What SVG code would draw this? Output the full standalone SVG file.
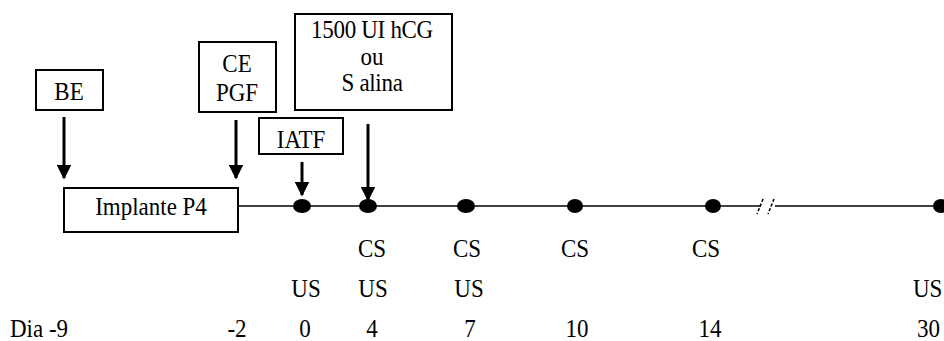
<svg xmlns="http://www.w3.org/2000/svg" width="944" height="341" viewBox="0 0 944 341">
<style>
.box{fill:#fff;stroke:#000;stroke-width:2}
.t{font-family:'Liberation Serif','Times New Roman',serif;font-size:23px;fill:#000;text-anchor:middle}
.ln{stroke:#000;stroke-width:1.6;fill:none}
.ar{stroke:#000;stroke-width:3;fill:none;marker-end:url(#ah)}
.dot{fill:#000}
</style>
<defs>
<marker id="ah" markerWidth="5" markerHeight="5" refX="4.5" refY="2.5" orient="auto" markerUnits="strokeWidth">
<path d="M0,0 L5,2.5 L0,5 Z" fill="#000"/>
</marker>
</defs>
<rect width="944" height="341" fill="#fff"/>
<g id="connectors">
<line class="ln" x1="238" y1="206" x2="761" y2="206"/>
<line class="ln" x1="775" y1="206" x2="944" y2="206"/>
<line class="ln" x1="763" y1="199" x2="757" y2="214" stroke-dasharray="3,2"/>
<line class="ln" x1="774" y1="199" x2="768" y2="214" stroke-dasharray="3,2"/>
<line class="ar" x1="64" y1="117" x2="64" y2="178"/>
<line class="ar" x1="236" y1="120" x2="236" y2="178"/>
<line class="ar" x1="302" y1="162" x2="302" y2="195"/>
<line class="ar" x1="368" y1="124" x2="368" y2="200"/>
</g>
<g id="dots">
<ellipse class="dot" cx="302" cy="206" rx="9" ry="7"/>
<ellipse class="dot" cx="368" cy="206" rx="9" ry="7"/>
<ellipse class="dot" cx="466" cy="206" rx="9" ry="7"/>
<ellipse class="dot" cx="575" cy="206" rx="8" ry="7"/>
<ellipse class="dot" cx="713" cy="206" rx="8" ry="7"/>
<ellipse class="dot" cx="941" cy="206" rx="8" ry="7"/>
</g>
<g id="be">
<rect class="box" x="36" y="70" width="67" height="40"/>
<text class="t" transform="translate(69,100) scale(1,1.1)">BE</text>
</g>
<g id="implante">
<rect class="box" x="64" y="188" width="174" height="44"/>
<text class="t" transform="translate(151,215) scale(1,1.1)">Implante P4</text>
</g>
<g id="cepgf">
<rect class="box" x="199" y="42" width="77" height="70"/>
<text class="t" transform="translate(237,72) scale(1,1.1)">CE</text>
<text class="t" transform="translate(237,101) scale(1,1.1)">PGF</text>
</g>
<g id="iatf">
<rect class="box" x="259" y="118" width="84" height="36"/>
<text class="t" transform="translate(301,148) scale(1,1.1)">IATF</text>
</g>
<g id="hcg">
<rect class="box" x="295" y="14" width="157" height="96"/>
<text class="t" font-size="20" transform="translate(372,38) scale(1,1.1)"><tspan x="0" y="0" letter-spacing="-0.3">1500 UI hCG</tspan><tspan x="0" y="24.5">ou</tspan><tspan x="0" y="48.2" letter-spacing="-0.3">S alina</tspan></text>
</g>
<g id="labels">
<text class="t" transform="translate(372,257) scale(1,1.1)">CS</text>
<text class="t" transform="translate(467,257) scale(1,1.1)">CS</text>
<text class="t" transform="translate(575,257) scale(1,1.1)">CS</text>
<text class="t" transform="translate(706,257) scale(1,1.1)">CS</text>
<text class="t" transform="translate(306,297) scale(1,1.1)">US</text>
<text class="t" transform="translate(373,297) scale(1,1.1)">US</text>
<text class="t" transform="translate(469,297) scale(1,1.1)">US</text>
<text class="t" style="text-anchor:start" transform="translate(913,297) scale(1,1.1)">US</text>
<text class="t" style="text-anchor:start" transform="translate(10,337) scale(1,1.1)">Dia -9</text>
<text class="t" transform="translate(237,337) scale(1,1.1)">-2</text>
<text class="t" transform="translate(305,337) scale(1,1.1)">0</text>
<text class="t" transform="translate(372,337) scale(1,1.1)">4</text>
<text class="t" transform="translate(470,337) scale(1,1.1)">7</text>
<text class="t" transform="translate(577,337) scale(1,1.1)">10</text>
<text class="t" transform="translate(710,337) scale(1,1.1)">14</text>
<text class="t" style="text-anchor:start" transform="translate(917,337) scale(1,1.1)">30</text>
</g>
</svg>
